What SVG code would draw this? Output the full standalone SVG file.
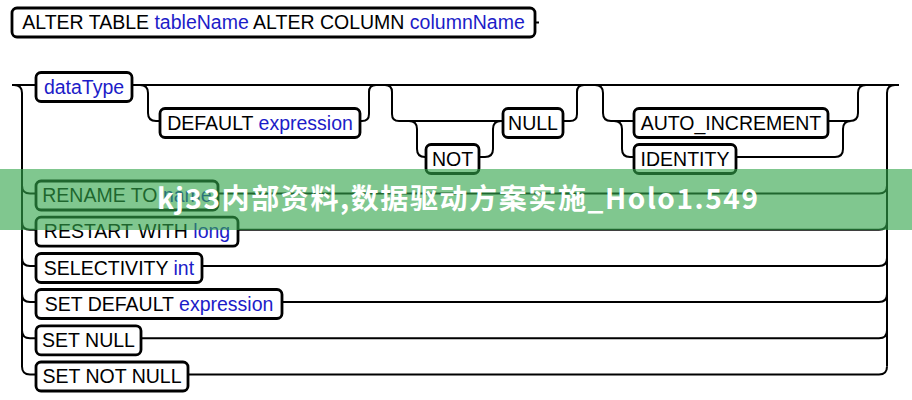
<svg xmlns="http://www.w3.org/2000/svg" width="912" height="400" viewBox="0 0 912 400">
<style>
.box{fill:#fff;stroke:#000;stroke-width:2.8}
.ln{fill:none;stroke:#000;stroke-width:2}
.t{font-family:"Liberation Sans",Arial,sans-serif;font-size:19.5px;fill:#000;text-anchor:middle}
.v{fill:#1c1cc8}
.wm{font-family:"Noto Sans CJK SC","Noto Sans",sans-serif;font-weight:bold;font-size:28px;fill:#fff}
</style>
<rect width="912" height="400" fill="#fff"/>
<g id="connectors" class="ln">
<path d="M535 22.5H539"/>
<path d="M12 85H36M132 85H899"/>
<path d="M14 85Q22 85 22 93V366.5Q22 374.5 30 374.5H36"/>
<path d="M22 185.5Q22 193.5 30 193.5H36M22 221.7Q22 229.7 30 229.7H36M22 258Q22 266 30 266H36M22 294Q22 302 30 302H36M22 330.3Q22 338.3 30 338.3H36"/>
<path d="M887 366.5V93Q887 85 895 85"/>
<path d="M218 193.5H879Q887 193.5 887 185.5M238 229.7H879Q887 229.7 887 221.7M202 266H879Q887 266 887 258M282 302H879Q887 302 887 294M141 338.3H879Q887 338.3 887 330.3M188 374.5H879Q887 374.5 887 366.5"/>
<path d="M140 85Q148 85 148 93V113Q148 121 156 121H160M360 121H362Q369 121 369 114V92Q369 85 376 85"/>
<path d="M385 85Q392 85 392 92V114Q392 121 399 121H503M409 121Q417 121 417 129V149Q417 157 425 157H426M479 157H485Q493 157 493 149V129Q493 121 501 121H503M563 121H570Q577 121 577 114V92Q577 85 584 85"/>
<path d="M595 85Q603 85 603 93V113Q603 121 611 121H634M614 121Q622 121 622 129V149Q622 157 630 157H634"/>
<path d="M828 121H850Q858 121 858 113V93Q858 85 866 85M736 157H835Q843 157 843 149V129Q843 121 851 121"/>
</g>
<g id="n-alter">
<rect class="box" x="12" y="8" width="523" height="29" rx="5"/>
<text class="t" x="273.5" y="29">ALTER TABLE <tspan class="v">tableName</tspan> ALTER COLUMN <tspan class="v">columnName</tspan></text>
</g>
<g id="n-datatype">
<rect class="box" x="36" y="72.5" width="96" height="29" rx="5"/>
<text class="t v" x="84" y="93.5">dataType</text>
</g>
<g id="n-default">
<rect class="box" x="160" y="108.5" width="200" height="29" rx="5"/>
<text class="t" x="260" y="129.5">DEFAULT <tspan class="v">expression</tspan></text>
</g>
<g id="n-not">
<rect class="box" x="426" y="144.5" width="53" height="29" rx="5"/>
<text class="t" x="452.5" y="165.5">NOT</text>
</g>
<g id="n-null">
<rect class="box" x="503" y="108.5" width="60" height="29" rx="5"/>
<text class="t" x="533" y="129.5">NULL</text>
</g>
<g id="n-auto">
<rect class="box" x="634" y="108.5" width="194" height="29" rx="5"/>
<text class="t" x="731" y="129.5">AUTO_INCREMENT</text>
</g>
<g id="n-identity">
<rect class="box" x="634" y="144.5" width="102" height="29" rx="5"/>
<text class="t" x="685" y="165.5">IDENTITY</text>
</g>
<g id="n-rename">
<rect class="box" x="36" y="181" width="182" height="29" rx="5"/>
<text class="t" x="127" y="202">RENAME TO <tspan class="v">name</tspan></text>
</g>
<g id="n-restart">
<rect class="box" x="36" y="217.2" width="202" height="29" rx="5"/>
<text class="t" x="137" y="238.2">RESTART WITH <tspan class="v">long</tspan></text>
</g>
<g id="n-selectivity">
<rect class="box" x="36" y="253.5" width="166" height="29" rx="5"/>
<text class="t" x="119" y="274.5">SELECTIVITY <tspan class="v">int</tspan></text>
</g>
<g id="n-setdefault">
<rect class="box" x="36" y="289.5" width="246" height="29" rx="5"/>
<text class="t" x="159" y="310.5">SET DEFAULT <tspan class="v">expression</tspan></text>
</g>
<g id="n-setnull">
<rect class="box" x="36" y="325.8" width="105" height="29" rx="5"/>
<text class="t" x="88.5" y="346.8">SET NULL</text>
</g>
<g id="n-setnotnull">
<rect class="box" x="36" y="362" width="152" height="29" rx="5"/>
<text class="t" x="112" y="383">SET NOT NULL</text>
</g>
<g id="watermark">
<rect x="0" y="169" width="912" height="61" fill="rgb(50,165,75)" fill-opacity="0.62"/>
<text class="wm" x="157" y="209" textLength="601" lengthAdjust="spacing">kj33内部资料,数据驱动方案实施_Holo1.549</text>
</g>
</svg>
